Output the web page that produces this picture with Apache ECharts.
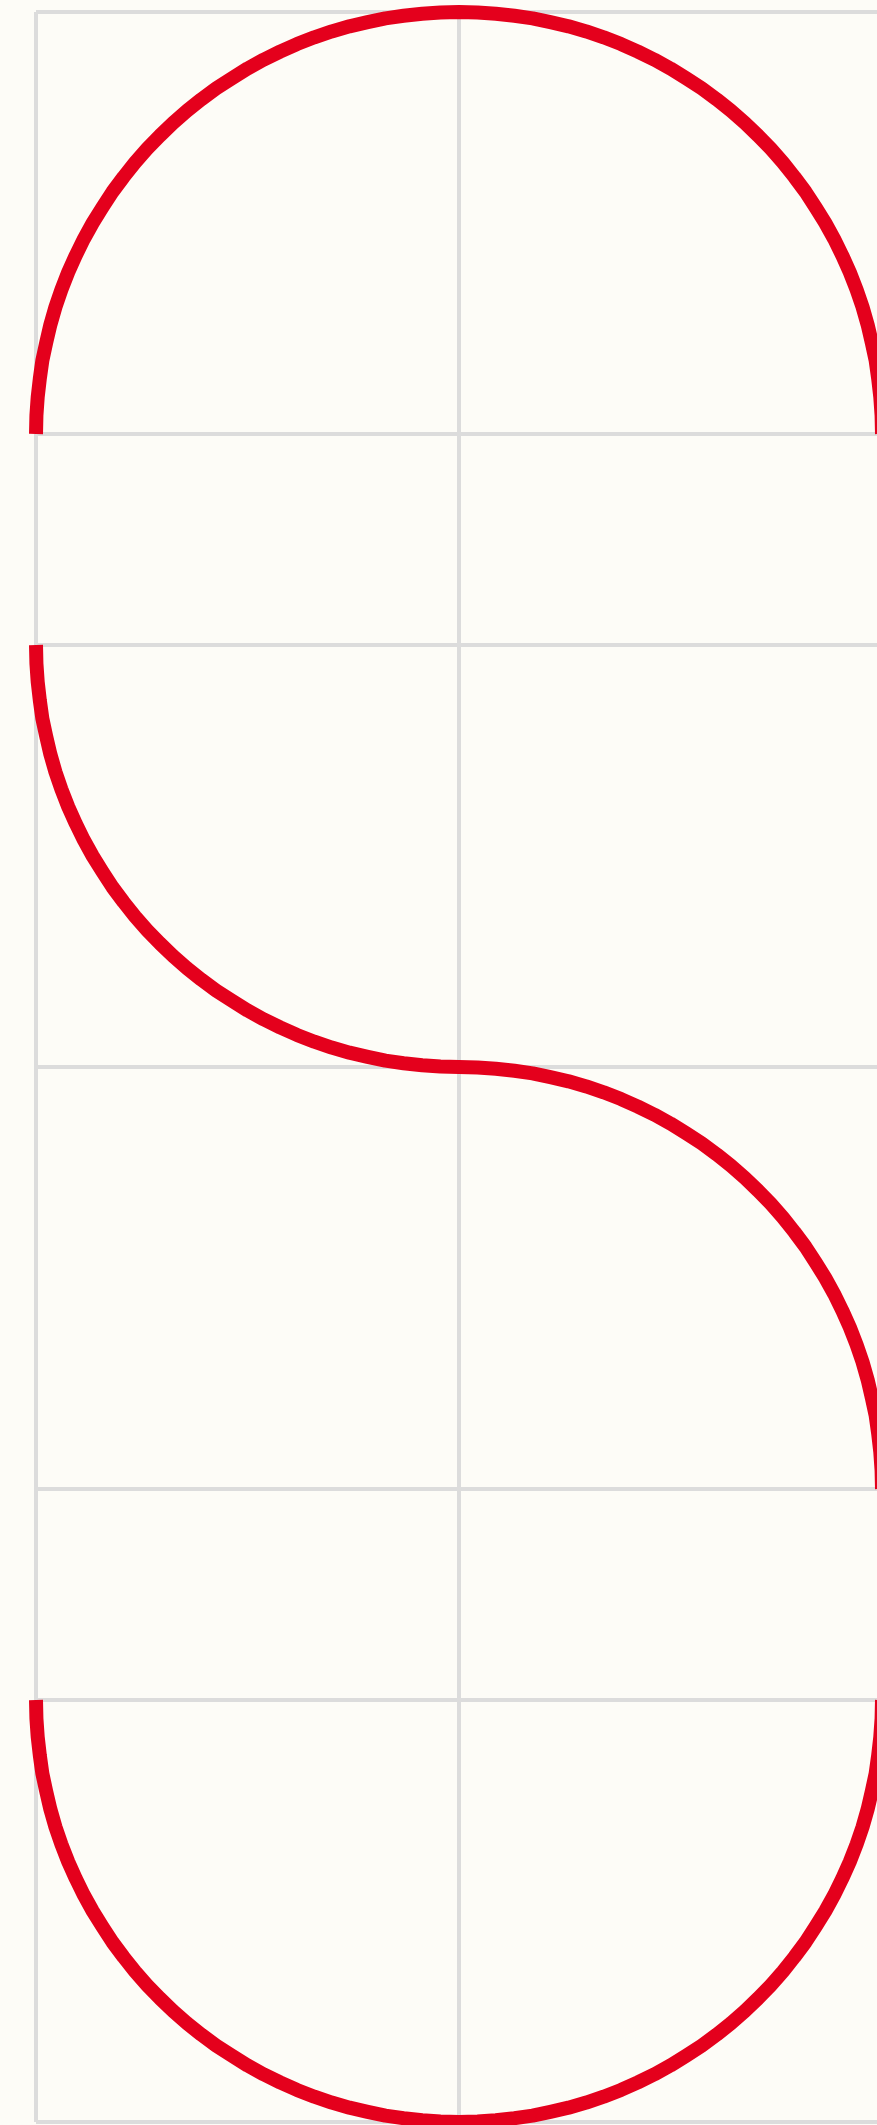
<!DOCTYPE html>
<html>
<head>
<meta charset="utf-8">
<script src="https://cdn.jsdelivr.net/npm/echarts@6/dist/echarts.min.js"></script>
<style>
html,body{margin:0;padding:0;background:#fdfcf7;}
#main{width:877px;height:2125px;}
</style>
</head>
<body>
<div id="main"></div>
<script>
// Values (x: 0..2, y: 0..5)
var xTicks = [0, 1, 2];
var yTicks = [0, 1, 1.5, 2.5, 3.5, 4, 5];

var topArc = [
  [0,4],[0.001,4.044],[0.004,4.087],[0.009,4.131],[0.015,4.174],[0.024,4.216],[0.034,4.259],[0.046,4.301],[0.060,4.342],[0.076,4.383],[0.094,4.423],[0.113,4.462],[0.134,4.5],[0.157,4.537],[0.181,4.574],[0.207,4.609],[0.234,4.643],[0.263,4.676],[0.293,4.707],[0.324,4.737],[0.357,4.766],[0.391,4.793],[0.426,4.819],[0.463,4.843],[0.5,4.866],[0.538,4.887],[0.577,4.906],[0.617,4.924],[0.658,4.940],[0.699,4.954],[0.741,4.966],[0.784,4.976],[0.826,4.985],[0.869,4.991],[0.913,4.996],[0.956,4.999],[1,5],
  [1.044,4.999],[1.087,4.996],[1.131,4.991],[1.174,4.985],[1.216,4.976],[1.259,4.966],[1.301,4.954],[1.342,4.940],[1.383,4.924],[1.423,4.906],[1.462,4.887],[1.5,4.866],[1.537,4.843],[1.574,4.819],[1.609,4.793],[1.643,4.766],[1.676,4.737],[1.707,4.707],[1.737,4.676],[1.766,4.643],[1.793,4.609],[1.819,4.574],[1.843,4.537],[1.866,4.5],[1.887,4.462],[1.906,4.423],[1.924,4.383],[1.940,4.342],[1.954,4.301],[1.966,4.259],[1.976,4.216],[1.985,4.174],[1.991,4.131],[1.996,4.087],[1.999,4.044],[2,4]
];
var sCurve = [
  [0,3.5],[0.001,3.456],[0.004,3.413],[0.009,3.369],[0.015,3.326],[0.024,3.284],[0.034,3.241],[0.046,3.199],[0.060,3.158],[0.076,3.117],[0.094,3.077],[0.113,3.038],[0.134,3.0],[0.157,2.963],[0.181,2.926],[0.207,2.891],[0.234,2.857],[0.263,2.824],[0.293,2.793],[0.324,2.763],[0.357,2.734],[0.391,2.707],[0.426,2.681],[0.463,2.657],[0.5,2.634],[0.538,2.613],[0.577,2.594],[0.617,2.576],[0.658,2.560],[0.699,2.546],[0.741,2.534],[0.784,2.524],[0.826,2.515],[0.869,2.509],[0.913,2.504],[0.956,2.501],[1,2.5],
  [1.044,2.499],[1.087,2.496],[1.131,2.491],[1.174,2.485],[1.216,2.476],[1.259,2.466],[1.301,2.454],[1.342,2.440],[1.383,2.424],[1.423,2.406],[1.462,2.387],[1.5,2.366],[1.537,2.343],[1.574,2.319],[1.609,2.293],[1.643,2.266],[1.676,2.237],[1.707,2.207],[1.737,2.176],[1.766,2.143],[1.793,2.109],[1.819,2.074],[1.843,2.037],[1.866,2.0],[1.887,1.962],[1.906,1.923],[1.924,1.883],[1.940,1.842],[1.954,1.801],[1.966,1.759],[1.976,1.716],[1.985,1.674],[1.991,1.631],[1.996,1.587],[1.999,1.544],[2,1.5]
];
var bottomArc = [
  [0,1],[0.001,0.956],[0.004,0.913],[0.009,0.869],[0.015,0.826],[0.024,0.784],[0.034,0.741],[0.046,0.699],[0.060,0.658],[0.076,0.617],[0.094,0.577],[0.113,0.538],[0.134,0.5],[0.157,0.463],[0.181,0.426],[0.207,0.391],[0.234,0.357],[0.263,0.324],[0.293,0.293],[0.324,0.263],[0.357,0.234],[0.391,0.207],[0.426,0.181],[0.463,0.157],[0.5,0.134],[0.538,0.113],[0.577,0.094],[0.617,0.076],[0.658,0.060],[0.699,0.046],[0.741,0.034],[0.784,0.024],[0.826,0.015],[0.869,0.009],[0.913,0.004],[0.956,0.001],[1,0],
  [1.044,0.001],[1.087,0.004],[1.131,0.009],[1.174,0.015],[1.216,0.024],[1.259,0.034],[1.301,0.046],[1.342,0.060],[1.383,0.076],[1.423,0.094],[1.462,0.113],[1.5,0.134],[1.537,0.157],[1.574,0.181],[1.609,0.207],[1.643,0.234],[1.676,0.263],[1.707,0.293],[1.737,0.324],[1.766,0.357],[1.793,0.391],[1.819,0.426],[1.843,0.463],[1.866,0.5],[1.887,0.538],[1.906,0.577],[1.924,0.617],[1.940,0.658],[1.954,0.699],[1.966,0.741],[1.976,0.784],[1.985,0.826],[1.991,0.869],[1.996,0.913],[1.999,0.956],[2,1]
];

var chart = echarts.init(document.getElementById('main'), null, {renderer: 'canvas'});
function lineSeries(data) {
  return {
    type: 'line',
    data: data,
    symbol: 'none',
    smooth: false,
    lineStyle: {color: '#e4001c', width: 14, cap: 'butt', join: 'round'},
    itemStyle: {color: '#e4001c'},
    animation: false
  };
}
chart.setOption({
  backgroundColor: '#fdfcf7',
  animation: false,
  grid: {left: 36, top: 12, width: 846, height: 2110, containLabel: false, outerBoundsMode: 'none'},
  xAxis: {
    type: 'value', min: xTicks[0], max: xTicks[xTicks.length - 1], interval: 1,
    axisLine: {show: false}, axisTick: {show: false}, axisLabel: {show: false},
    splitLine: {show: true, lineStyle: {color: '#dcdcdc', width: 4}}
  },
  yAxis: {
    type: 'value', min: yTicks[0], max: yTicks[yTicks.length - 1],
    axisLine: {show: false},
    axisTick: {show: false, customValues: yTicks},
    axisLabel: {show: false, customValues: yTicks},
    splitLine: {show: true, customValues: yTicks, lineStyle: {color: '#dcdcdc', width: 4}}
  },
  series: [lineSeries(topArc), lineSeries(sCurve), lineSeries(bottomArc)]
});
</script>
</body>
</html>
